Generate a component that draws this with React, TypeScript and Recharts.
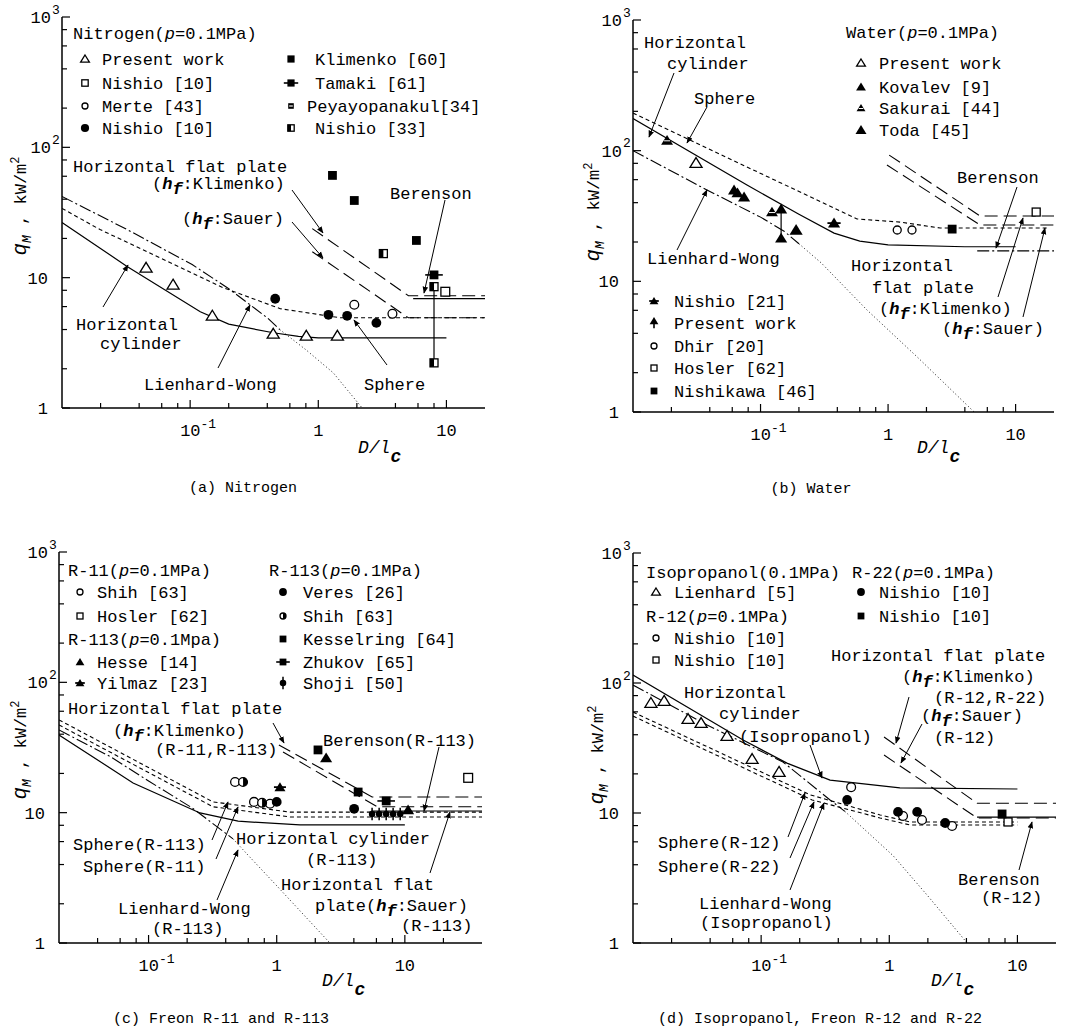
import React from 'react';
import { ScatterChart, Scatter, XAxis, YAxis } from 'recharts';

type P = { x: number; y: number };
const pts = (a: number[][]): P[] => a.map(([x, y]) => ({ x, y }));

// ---------- ticks ----------
const X_TICKS = [0.02, 0.04, 0.06, 0.08, 0.1, 0.2, 0.4, 0.6, 0.8, 1, 2, 4, 6, 8, 10];
const X_TICKS_C = [0.04, 0.06, 0.08, 0.1, 0.2, 0.4, 0.6, 0.8, 1, 2, 4, 6, 8, 10, 20];
const Y_TICKS = [1, 2, 4, 6, 8, 10, 20, 40, 60, 80, 100, 200, 400, 600, 800, 1000];
const X_DOMAIN = [0.01, 20];
const X_DOMAIN_C = [0.02, 40];
const Y_DOMAIN = [1, 1000];

// ---------- (a) Nitrogen ----------
const A_CYL = pts([[0.01, 26.5], [0.0322, 12.2], [0.12, 5.48], [0.2, 4.4], [0.445, 3.78], [0.7, 3.55], [1, 3.45], [10, 3.45]]);
const A_SPH = pts([[0.01, 34], [0.0198, 23.4], [0.181, 8.38], [0.505, 5.78], [1.49, 4.92], [20, 4.92]]);
const A_LW = pts([[0.01, 42], [0.0322, 23.4], [0.1037, 12.6], [0.195, 8.38], [0.4, 4.92], [0.5, 4.0]]);
const A_LW_EXT = pts([[0.5, 4.0], [0.8, 2.8], [1.31, 1.86], [2.2, 1.0]]);
const A_KLIM = pts([[0.898, 23.8], [5.05, 7.27], [20, 7.27]]);
const A_SAUER = pts([[0.898, 15.8], [5.05, 4.92], [20, 4.92]]);
const A_BER = pts([[5.5, 6.9], [20, 6.9]]);
const A_PRESENT = pts([[0.0453, 11.9], [0.0736, 8.83], [0.149, 5.1], [0.445, 3.71], [0.806, 3.58], [1.41, 3.58]]);
const A_NISHIO10_SQ = pts([[9.8, 7.8]]);
const A_MERTE = pts([[1.91, 6.2], [3.79, 5.28]]);
const A_NISHIO10_C = pts([[0.461, 6.89], [1.2, 5.19], [1.68, 5.1], [2.84, 4.5]]);
const A_KLIMENKO = pts([[1.29, 60.9], [1.91, 39.1], [5.83, 19.3]]);
const A_TAMAKI = pts([[8.0, 10.5]]);
const A_PEYAYO = pts([[3.22, 15.3]]);
const A_NISHIO33 = pts([[8.0, 8.53], [8.0, 2.22]]);

// ---------- (b) Water ----------
const B_CYL = pts([[0.01, 176], [0.0783, 54.6], [0.2, 32.6], [0.377, 23.4], [0.6, 20.3], [1, 19.0], [4, 18.4], [10, 18.4]]);
const B_SPH = pts([[0.01, 194], [0.571, 30], [1.24, 28.4], [2.56, 25.6], [18, 25.6]]);
const B_LW = pts([[0.01, 100], [0.038, 50], [0.1, 31], [0.153, 24.2], [0.2, 19.4]]);
const B_LW_EXT = pts([[0.2, 19.4], [0.3, 13.8], [0.684, 6.03], [1.69, 2.64], [4.73, 1.0]]);
const B_KLIM = pts([[1.02, 92.5], [5.27, 31.6], [20, 31.6]]);
const B_SAUER = pts([[0.98, 77.6], [5.27, 27], [20, 27]]);
const B_BER = pts([[5, 17.1], [20, 17.1]]);
const B_PRESENT = pts([[0.0312, 80.4]]);
const B_KOVALEV = pts([[0.062, 50], [0.066, 47.5], [0.0743, 44.2]]);
const B_SAKURAI = pts([[0.0185, 120], [0.123, 33.9]]);
const B_TODA = pts([[0.19, 24.7]]);
const B_NISHIO21 = pts([[0.377, 27.9]]);
const B_PRESENT_RANGE = pts([[0.145, 35.7], [0.145, 21.4]]);
const B_DHIR = pts([[1.18, 24.7], [1.54, 24.7]]);
const B_HOSLER = pts([[14.5, 33.9]]);
const B_NISHIKAWA = pts([[3.18, 25.1]]);

// ---------- (c) Freon R-11 and R-113 ----------
const C_CYL = pts([[0.02, 39.5], [0.0757, 16.9], [0.252, 9.95], [0.5, 8.6], [1.52, 8.05], [10, 8.05]]);
const C_SPH113 = pts([[0.02, 51.5], [0.318, 12.1], [1.27, 10.1], [40, 10.1]]);
const C_SPH11 = pts([[0.02, 47.1], [0.318, 11.1], [1.27, 9.27], [40, 9.27]]);
const C_LW = pts([[0.02, 43.1], [0.05, 27], [0.1, 17.5], [0.218, 10.9], [0.456, 6.3]]);
const C_LW_EXT = pts([[0.456, 6.3], [0.6, 4.7], [1.0, 2.75], [2.6, 1.0]]);
const C_KLIM = pts([[1.04, 33.1], [5.55, 13.2], [40, 13.2]]);
const C_SAUER = pts([[1.12, 29.2], [6.07, 11.1], [40, 11.1]]);
const C_BER = pts([[5.5, 10.3], [40, 10.3]]);
const C_SHIH11 = pts([[0.473, 17.2], [0.665, 12.1], [0.887, 11.7]]);
const C_HOSLER11 = pts([[31.2, 18.5]]);
const C_HESSE = pts([[2.43, 26.3], [10.6, 10.5]]);
const C_YILMAZ = pts([[1.06, 15.7]]);
const C_VERES = pts([[1.0, 12.1], [4.02, 10.7]]);
const C_SHIH113 = pts([[0.546, 17.2], [0.769, 11.9]]);
const C_KESSELRING = pts([[2.1, 30.3], [4.32, 14.4]]);
const C_ZHUKOV = pts([[7.15, 12.3]]);
const C_SHOJI = pts([[5.55, 9.78], [6.3, 9.78], [7.15, 9.78], [8.1, 9.78], [9.2, 9.78]]);

// ---------- (d) Isopropanol, R-12, R-22 ----------
const D_CYL = pts([[0.01, 115], [0.0723, 36.4], [0.159, 24.2], [0.345, 17.9], [1.21, 15.6], [10, 15.3]]);
const D_LW = pts([[0.01, 96.5], [0.0379, 47.5], [0.148, 24.7], [0.345, 12.6], [0.45, 10.3]]);
const D_LW_EXT = pts([[0.45, 10.3], [1.07, 4.7], [2, 2.3], [4.05, 1.0]]);
const D_SPH12 = pts([[0.01, 59.8], [0.241, 13.8], [0.848, 9.66], [1.45, 8.53], [10, 8.53]]);
const D_SPH22 = pts([[0.01, 55.7], [0.25, 12.6], [0.848, 9.16], [1.45, 8.09], [10, 8.09]]);
const D_KLIM = pts([[0.91, 38.4], [4.84, 11.9], [20, 11.9]]);
const D_SAUER = pts([[0.91, 27.9], [4.84, 9.16], [20, 9.16]]);
const D_BER = pts([[4.84, 9.3], [20, 9.3]]);
const D_LIENHARD = pts([[0.0138, 70.2], [0.0175, 72.8], [0.0269, 52.8], [0.034, 49.2], [0.0542, 39.1], [0.085, 26.0], [0.138, 20.7]]);
const D_R12_C = pts([[0.504, 15.8], [1.28, 9.48], [1.8, 8.83], [3.09, 7.94]]);
const D_R12_SQ = pts([[8.45, 8.53]]);
const D_R22_C = pts([[0.469, 12.6], [1.17, 10.2], [1.65, 10.2], [2.73, 8.38]]);
const D_R22_SQ = pts([[7.59, 9.83]]);

// ---------- styles ----------
const FF = '"Liberation Mono", "DejaVu Sans Mono", monospace';
const L_SOLID = { stroke: '#000', strokeWidth: 1.2 };
const L_SHORT = { stroke: '#000', strokeWidth: 1.1, strokeDasharray: '4 3' };
const L_LONG = { stroke: '#000', strokeWidth: 1.1, strokeDasharray: '13 6' };
const L_DASHDOT = { stroke: '#000', strokeWidth: 1.1, strokeDasharray: '12 3 2 3' };
const L_DOT = { stroke: '#000', strokeWidth: 0.9, strokeDasharray: '1 2.5' };
const AX = { stroke: '#000', strokeWidth: 1.5 };

function Mk({ k, cx, cy, s = 1 }: { k: string; cx: number; cy: number; s?: number }) {
  const r = 4 * s;
  const B = '#000';
  const W = '#fff';
  const tri = (h: number) => `M${cx},${cy - h}L${cx + h * 1.1},${cy + h * 0.8}L${cx - h * 1.1},${cy + h * 0.8}Z`;
  switch (k) {
    case 'triO':
      return <path d={tri(5 * s)} fill={W} stroke={B} strokeWidth={1.3} />;
    case 'triF':
      return <path d={tri(5 * s)} fill={B} />;
    case 'triS':
      return (
        <g>
          <path d={tri(4.5 * s)} fill={B} />
          <line x1={cx - 2.5 * s} x2={cx + 2.5 * s} y1={cy + 0.5} y2={cy + 0.5} stroke={W} strokeWidth={1} />
        </g>
      );
    case 'star':
      return (
        <g>
          <path d={tri(5 * s)} fill={B} />
          <line x1={cx - 6 * s} x2={cx + 6 * s} y1={cy} y2={cy} stroke={B} strokeWidth={1.8} />
        </g>
      );
    case 'triBar':
      return (
        <g>
          <path d={tri(5 * s)} fill={B} />
          <line x1={cx} x2={cx} y1={cy} y2={cy + 9 * s} stroke={B} strokeWidth={1.6} />
        </g>
      );
    case 'sqO':
      return <rect x={cx - r} y={cy - r} width={2 * r} height={2 * r} fill={W} stroke={B} strokeWidth={1.3} />;
    case 'sqF':
      return <rect x={cx - r} y={cy - r} width={2 * r} height={2 * r} fill={B} />;
    case 'sqHalf':
      return (
        <g>
          <rect x={cx - r} y={cy - r} width={2 * r} height={2 * r} fill={W} stroke={B} strokeWidth={1.3} />
          <rect x={cx - r} y={cy - r} width={r} height={2 * r} fill={B} />
        </g>
      );
    case 'sqStripe':
      return (
        <g>
          <rect x={cx - r} y={cy - r} width={2 * r} height={2 * r} fill={B} />
          <line x1={cx - r + 1} x2={cx + r - 1} y1={cy} y2={cy} stroke={W} strokeWidth={1.2} />
        </g>
      );
    case 'sqBar':
      return (
        <g>
          <line x1={cx - 8 * s} x2={cx + 8 * s} y1={cy} y2={cy} stroke={B} strokeWidth={1.6} />
          <rect x={cx - r} y={cy - r} width={2 * r} height={2 * r} fill={B} />
        </g>
      );
    case 'circO':
      return <circle cx={cx} cy={cy} r={r} fill={W} stroke={B} strokeWidth={1.3} />;
    case 'circF':
      return <circle cx={cx} cy={cy} r={r + 0.5} fill={B} />;
    case 'circHalf':
      return (
        <g>
          <circle cx={cx} cy={cy} r={r} fill={W} stroke={B} strokeWidth={1.3} />
          <path d={`M${cx},${cy - r}A${r},${r} 0 0 1 ${cx},${cy + r}Z`} fill={B} />
        </g>
      );
    case 'shoji':
      return (
        <g>
          <line x1={cx} x2={cx} y1={cy - 7 * s} y2={cy + 7 * s} stroke={B} strokeWidth={1.5} />
          <circle cx={cx} cy={cy} r={3.6 * s} fill={B} />
        </g>
      );
    default:
      return <g />;
  }
}

const Empty = () => <g />;
const shapeOf = (k: string, s = 1) => (p: any) => <Mk k={k} cx={p.cx} cy={p.cy} s={s} />;

function line(key: string, data: P[], style: any) {
  return (
    <Scatter key={key} xAxisId="b" yAxisId="l" data={data} line={style} lineType="joint" shape={Empty}
      fill="#000" isAnimationActive={false} legendType="none" />
  );
}
function dots(key: string, data: P[], k: string, s = 1, style: any = false) {
  return (
    <Scatter key={key} xAxisId="b" yAxisId="l" data={data} line={style} shape={shapeOf(k, s)}
      fill="#000" isAnimationActive={false} legendType="none" />
  );
}

// ---------- axis ticks ----------
const isMajor = (v: number) => Math.abs(Math.log10(v) - Math.round(Math.log10(v))) < 1e-9;

const BottomTick = (p: any) => {
  const { x, y, payload } = p;
  const v = payload.value;
  const M = isMajor(v);
  return (
    <g>
      <line x1={x} x2={x} y1={y} y2={y - (M ? 8 : 5)} stroke="#000" strokeWidth={1.2} />
      {M && v === 0.1 && (
        <text x={x - 10} y={y + 22} dy="0.35em" fontFamily={FF} fontSize={17} fill="#000">
          10<tspan dy={-8} fontSize={13}>-1</tspan>
        </text>
      )}
      {M && v !== 0.1 && (
        <text x={x} y={y + 22} dy="0.35em" textAnchor="middle" fontFamily={FF} fontSize={17} fill="#000">
          {v}
        </text>
      )}
    </g>
  );
};
const TopTick = (p: any) => {
  const { x, y, payload } = p;
  const M = isMajor(payload.value);
  return <line x1={x} x2={x} y1={y} y2={y + (M ? 8 : 5)} stroke="#000" strokeWidth={1.2} />;
};
const LeftTick = (p: any) => {
  const { x, y, payload } = p;
  const v = payload.value;
  const M = isMajor(v);
  return (
    <g>
      <line x1={x} x2={x + (M ? 8 : 5)} y1={y} y2={y} stroke="#000" strokeWidth={1.2} />
      {M && v < 100 && (
        <text x={x - 14} y={y} dy="0.35em" textAnchor="end" fontFamily={FF} fontSize={17} fill="#000">
          {v}
        </text>
      )}
      {M && v >= 100 && (
        <g>
          <text x={x - 11} y={y} dy="0.35em" textAnchor="end" fontFamily={FF} fontSize={17} fill="#000">
            10
          </text>
          <text x={x - 10} y={y - 8} dy="0.35em" fontFamily={FF} fontSize={13} fill="#000">
            {v === 100 ? '2' : '3'}
          </text>
        </g>
      )}
    </g>
  );
};
const RightTick = (p: any) => {
  const { x, y, payload } = p;
  const M = isMajor(payload.value);
  return <line x1={x} x2={x - (M ? 8 : 5)} y1={y} y2={y} stroke="#000" strokeWidth={1.2} />;
};

function Panel({ pos, size, margin, yw, domain, xticks, series }: any) {
  return (
    <div style={{ position: 'absolute', left: pos[0], top: pos[1] }}>
      <ScatterChart width={size[0]} height={size[1]} margin={margin}>
        <XAxis xAxisId="b" orientation="bottom" dataKey="x" type="number" scale="log" domain={domain} allowDataOverflow
          ticks={xticks} interval={0} tick={BottomTick} tickLine={false} tickSize={0} tickMargin={0} height={40} axisLine={AX} />
        <XAxis xAxisId="t" orientation="top" dataKey="x" type="number" scale="log" domain={domain} allowDataOverflow
          ticks={xticks} interval={0} tick={TopTick} tickLine={false} tickSize={0} tickMargin={0} height={0} axisLine={AX} />
        <YAxis yAxisId="l" orientation="left" dataKey="y" type="number" scale="log" domain={Y_DOMAIN} allowDataOverflow
          ticks={Y_TICKS} interval={0} tick={LeftTick} tickLine={false} tickSize={0} tickMargin={0} width={yw} axisLine={AX} />
        <YAxis yAxisId="r" orientation="right" dataKey="y" type="number" scale="log" domain={Y_DOMAIN} allowDataOverflow
          ticks={Y_TICKS} interval={0} tick={RightTick} tickLine={false} tickSize={0} tickMargin={0} width={0} axisLine={AX} />
        {series}
      </ScatterChart>
    </div>
  );
}

const seriesA = [
  line('a1', A_LW, L_DASHDOT), line('a2', A_LW_EXT, L_DOT), line('a3', A_SPH, L_SHORT), line('a4', A_CYL, L_SOLID),
  line('a5', A_KLIM, L_LONG), line('a6', A_SAUER, L_LONG), line('a7', A_BER, L_SOLID),
  dots('ap1', A_PRESENT, 'triO', 1.1), dots('ap2', A_NISHIO10_SQ, 'sqO', 1.1), dots('ap3', A_MERTE, 'circO', 1.1),
  dots('ap4', A_NISHIO10_C, 'circF', 1.1), dots('ap5', A_KLIMENKO, 'sqF', 1.1), dots('ap6', A_TAMAKI, 'sqBar', 1.1),
  dots('ap7', A_PEYAYO, 'sqHalf', 1.0), dots('ap8', A_NISHIO33, 'sqHalf', 1.0, L_SOLID),
];
const seriesB = [
  line('b1', B_LW, L_DASHDOT), line('b2', B_LW_EXT, L_DOT), line('b3', B_SPH, L_SHORT), line('b4', B_CYL, L_SOLID),
  line('b5', B_KLIM, L_LONG), line('b6', B_SAUER, L_LONG), line('b7', B_BER, L_DASHDOT),
  dots('bp1', B_PRESENT, 'triO', 1.1), dots('bp2', B_KOVALEV, 'triF', 1.1), dots('bp3', B_SAKURAI, 'triS', 1.2),
  dots('bp4', B_TODA, 'triF', 1.2), dots('bp5', B_NISHIO21, 'star', 1.1), dots('bp6', B_PRESENT_RANGE, 'triF', 1.1, L_SOLID),
  dots('bp7', B_DHIR, 'circO', 1.0), dots('bp8', B_HOSLER, 'sqO', 1.0), dots('bp9', B_NISHIKAWA, 'sqF', 1.1),
];
const seriesC = [
  line('c1', C_LW, L_DASHDOT), line('c2', C_LW_EXT, L_DOT), line('c3', C_SPH113, L_SHORT), line('c4', C_SPH11, L_SHORT),
  line('c5', C_CYL, L_SOLID), line('c6', C_KLIM, L_LONG), line('c7', C_SAUER, L_LONG), line('c8', C_BER, L_SOLID),
  dots('cp1', C_SHIH11, 'circO', 1.1), dots('cp2', C_HOSLER11, 'sqO', 1.1), dots('cp3', C_HESSE, 'triF', 1.1),
  dots('cp4', C_YILMAZ, 'star', 1.0), dots('cp5', C_VERES, 'circF', 1.1), dots('cp6', C_SHIH113, 'circHalf', 1.1),
  dots('cp7', C_KESSELRING, 'sqF', 1.1), dots('cp8', C_ZHUKOV, 'sqBar', 1.1), dots('cp9', C_SHOJI, 'shoji', 0.9),
];
const seriesD = [
  line('d1', D_LW, L_DASHDOT), line('d2', D_LW_EXT, L_DOT), line('d3', D_SPH12, L_SHORT), line('d4', D_SPH22, L_SHORT),
  line('d5', D_CYL, L_SOLID), line('d6', D_KLIM, L_LONG), line('d7', D_SAUER, L_LONG), line('d8', D_BER, L_SOLID),
  dots('dp1', D_LIENHARD, 'triO', 1.1), dots('dp2', D_R12_C, 'circO', 1.1), dots('dp3', D_R12_SQ, 'sqO', 1.0),
  dots('dp4', D_R22_C, 'circF', 1.1), dots('dp5', D_R22_SQ, 'sqF', 1.1),
];

// ---------- annotation helpers ----------
function T({ x, y, children, size = 17, anchor = 'start' }: any) {
  return (
    <text x={x} y={y} dy="0.35em" fontFamily={FF} fontSize={size} textAnchor={anchor} fill="#000">
      {children}
    </text>
  );
}
const Pi = () => <tspan fontStyle="italic">p</tspan>;
const Hf = ({ rest }: { rest: string }) => (
  <>
    <tspan fontStyle="italic" fontWeight="bold">h</tspan>
    <tspan fontStyle="italic" fontWeight="bold" dy={5}>f</tspan>
    <tspan dy={-5}>{rest}</tspan>
  </>
);
const DL = ({ x, y }: any) => (
  <text x={x} y={y} dy="0.35em" fontFamily={FF} fontSize={18} fill="#000">
    <tspan fontStyle="italic">D/l</tspan>
    <tspan fontStyle="italic" fontWeight="bold" dy={9}>c</tspan>
  </text>
);
const YTitle = ({ cx, cy }: any) => (
  <text transform={`rotate(-90 ${cx} ${cy})`} x={cx} y={cy} dy="0.35em" textAnchor="middle" fontFamily={FF} fontSize={17} fill="#000">
    <tspan fontStyle="italic" fontSize={21}>q</tspan>
    <tspan fontStyle="italic" fontSize={13} dy={5}>M</tspan>
    <tspan dy={-5}> , kW/m</tspan>
    <tspan dy={-7} fontSize={12}>2</tspan>
  </text>
);
const Ar = ({ a }: { a: number[] }) => (
  <line x1={a[0]} y1={a[1]} x2={a[2]} y2={a[3]} stroke="#000" strokeWidth={1} markerEnd="url(#ah)" />
);

const AnnA = () => (
  <g>
    <T x={73} y={33}>Nitrogen(<Pi />=0.1MPa)</T>
    <Mk k="triO" cx={85} cy={59} s={0.8} /><T x={102} y={59}>Present work</T>
    <Mk k="sqO" cx={85} cy={83} s={0.8} /><T x={102} y={83}>Nishio [10]</T>
    <Mk k="circO" cx={85} cy={106} s={0.75} /><T x={102} y={106}>Merte [43]</T>
    <Mk k="circF" cx={85} cy={128} s={0.9} /><T x={102} y={128}>Nishio [10]</T>
    <Mk k="sqF" cx={291} cy={59} s={0.9} /><T x={315} y={59}>Klimenko [60]</T>
    <Mk k="sqBar" cx={291} cy={83} s={0.9} /><T x={315} y={83}>Tamaki [61]</T>
    <Mk k="sqStripe" cx={291} cy={106} s={0.7} /><T x={307} y={106}>Peyayopanakul[34]</T>
    <Mk k="sqHalf" cx={291} cy={128} s={0.8} /><T x={315} y={128}>Nishio [33]</T>
    <T x={73} y={166}>Horizontal flat plate</T>
    <T x={152} y={183}>(<Hf rest=":Klimenko)" /></T>
    <T x={182} y={218}>(<Hf rest=":Sauer)" /></T>
    <T x={390} y={193}>Berenson</T>
    <T x={76} y={324}>Horizontal</T>
    <T x={100} y={343}>cylinder</T>
    <T x={144} y={384}>Lienhard-Wong</T>
    <T x={364} y={384}>Sphere</T>
    <DL x={358} y={447} />
    <T x={243} y={487} size={15} anchor="middle">(a) Nitrogen</T>
    <YTitle cx={20} cy={206} />
    <Ar a={[103, 307, 128, 265]} />
    <Ar a={[218, 368, 250, 305]} />
    <Ar a={[387, 365, 354, 320]} />
    <Ar a={[292, 190, 323, 233]} />
    <Ar a={[292, 222, 323, 258]} />
    <Ar a={[445, 200, 424, 293]} />
  </g>
);

const AnnB = () => (
  <g>
    <T x={644} y={42}>Horizontal</T>
    <T x={667} y={63}>cylinder</T>
    <T x={694} y={98}>Sphere</T>
    <T x={846} y={32}>Water(<Pi />=0.1MPa)</T>
    <Mk k="triO" cx={861} cy={63} s={0.8} /><T x={879} y={63}>Present work</T>
    <Mk k="triF" cx={861} cy={87} s={0.9} /><T x={879} y={87}>Kovalev [9]</T>
    <Mk k="triS" cx={861} cy={108} s={0.9} /><T x={879} y={108}>Sakurai [44]</T>
    <Mk k="triF" cx={861} cy={130} s={1.0} /><T x={879} y={130}>Toda [45]</T>
    <T x={957} y={177}>Berenson</T>
    <T x={647} y={258}>Lienhard-Wong</T>
    <T x={851} y={265}>Horizontal</T>
    <T x={872} y={287}>flat plate</T>
    <T x={879} y={308}>(<Hf rest=":Klimenko)" /></T>
    <T x={942} y={328}>(<Hf rest=":Sauer)" /></T>
    <Mk k="star" cx={654} cy={301} s={0.8} /><T x={674} y={301}>Nishio [21]</T>
    <Mk k="triBar" cx={654} cy={321} s={0.8} /><T x={674} y={323}>Present work</T>
    <Mk k="circO" cx={654} cy={346} s={0.75} /><T x={674} y={346}>Dhir [20]</T>
    <Mk k="sqO" cx={654} cy={368} s={0.75} /><T x={674} y={368}>Hosler [62]</T>
    <Mk k="sqF" cx={654} cy={391} s={0.85} /><T x={674} y={391}>Nishikawa [46]</T>
    <DL x={917} y={447} />
    <T x={811} y={488} size={15} anchor="middle">(b) Water</T>
    <YTitle cx={593} cy={212} />
    <Ar a={[674, 73, 649, 137]} />
    <Ar a={[707, 107, 687, 143]} />
    <Ar a={[677, 250, 707, 190]} />
    <Ar a={[1017, 187, 996, 248]} />
    <Ar a={[998, 297, 1023, 218]} />
    <Ar a={[1023, 317, 1045, 228]} />
  </g>
);

const AnnC = () => (
  <g>
    <T x={68} y={570}>R-11(<Pi />=0.1MPa)</T>
    <Mk k="circO" cx={80} cy={592} s={0.75} /><T x={97} y={592}>Shih [63]</T>
    <Mk k="sqO" cx={80} cy={616} s={0.75} /><T x={97} y={616}>Hosler [62]</T>
    <T x={68} y={639}>R-113(<Pi />=0.1Mpa)</T>
    <Mk k="triF" cx={80} cy={662} s={0.8} /><T x={97} y={662}>Hesse [14]</T>
    <Mk k="star" cx={80} cy={683} s={0.8} /><T x={97} y={683}>Yilmaz [23]</T>
    <T x={269} y={570}>R-113(<Pi />=0.1MPa)</T>
    <Mk k="circF" cx={283} cy={592} s={0.85} /><T x={303} y={592}>Veres [26]</T>
    <Mk k="circHalf" cx={283} cy={616} s={0.75} /><T x={303} y={616}>Shih [63]</T>
    <Mk k="sqF" cx={283} cy={639} s={0.85} /><T x={303} y={639}>Kesselring [64]</T>
    <Mk k="sqBar" cx={283} cy={662} s={0.85} /><T x={303} y={662}>Zhukov [65]</T>
    <Mk k="shoji" cx={283} cy={683} s={0.9} /><T x={303} y={683}>Shoji [50]</T>
    <T x={68} y={708}>Horizontal flat plate</T>
    <T x={113} y={730}>(<Hf rest=":Klimenko)" /></T>
    <T x={155} y={749}>(R-11,R-113)</T>
    <T x={323} y={740}>Berenson(R-113)</T>
    <T x={73} y={844}>Sphere(R-113)</T>
    <T x={83} y={866}>Sphere(R-11)</T>
    <T x={236} y={838}>Horizontal cylinder</T>
    <T x={306} y={859}>(R-113)</T>
    <T x={281} y={884}>Horizontal flat</T>
    <T x={315} y={905}>plate(<Hf rest=":Sauer)" /></T>
    <T x={401} y={925}>(R-113)</T>
    <T x={118} y={908}>Lienhard-Wong</T>
    <T x={152} y={928}>(R-113)</T>
    <DL x={322} y={980} />
    <T x={221} y={1018} size={15} anchor="middle">(c) Freon R-11 and R-113</T>
    <YTitle cx={20} cy={750} />
    <Ar a={[273, 723, 284, 743]} />
    <Ar a={[439, 747, 424, 811]} />
    <Ar a={[212, 840, 228, 802]} />
    <Ar a={[216, 859, 238, 807]} />
    <Ar a={[217, 900, 238, 850]} />
    <Ar a={[430, 873, 450, 812]} />
  </g>
);

const AnnD = () => (
  <g>
    <T x={646} y={572}>Isopropanol(0.1MPa)</T>
    <Mk k="triO" cx={656} cy={592} s={0.8} /><T x={674} y={592}>Lienhard [5]</T>
    <T x={646} y={616}>R-12(<Pi />=0.1MPa)</T>
    <Mk k="circO" cx={656} cy={638} s={0.75} /><T x={674} y={638}>Nishio [10]</T>
    <Mk k="sqO" cx={656} cy={660} s={0.75} /><T x={674} y={660}>Nishio [10]</T>
    <T x={852} y={572}>R-22(<Pi />=0.1MPa)</T>
    <Mk k="circF" cx={861} cy={592} s={0.85} /><T x={879} y={592}>Nishio [10]</T>
    <Mk k="sqF" cx={861} cy={616} s={0.85} /><T x={879} y={616}>Nishio [10]</T>
    <T x={831} y={655}>Horizontal flat plate</T>
    <T x={902} y={676}>(<Hf rest=":Klimenko)" /></T>
    <T x={934} y={697}>(R-12,R-22)</T>
    <T x={921} y={715}>(<Hf rest=":Sauer)" /></T>
    <T x={934} y={737}>(R-12)</T>
    <T x={684} y={692}>Horizontal</T>
    <T x={719} y={713}>cylinder</T>
    <T x={739} y={736}>(Isopropanol)</T>
    <T x={658} y={842}>Sphere(R-12)</T>
    <T x={658} y={866}>Sphere(R-22)</T>
    <T x={699} y={903}>Lienhard-Wong</T>
    <T x={700} y={922}>(Isopropanol)</T>
    <T x={958} y={879}>Berenson</T>
    <T x={981} y={897}>(R-12)</T>
    <DL x={931} y={980} />
    <T x={820} y={1018} size={15} anchor="middle">(d) Isopropanol, Freon R-12 and R-22</T>
    <YTitle cx={597} cy={755} />
    <Ar a={[810, 745, 822, 778]} />
    <Ar a={[909, 697, 896, 743]} />
    <Ar a={[922, 724, 901, 763]} />
    <Ar a={[788, 837, 805, 793]} />
    <Ar a={[790, 858, 814, 802]} />
    <Ar a={[790, 890, 824, 803]} />
    <Ar a={[1019, 870, 1032, 822]} />
  </g>
);

export default function App() {
  return (
    <div style={{ position: 'absolute', left: 0, top: 0, width: 1068, height: 1031, background: '#fff', overflow: 'hidden' }}>
      <Panel pos={[0, 0]} size={[534, 510]} margin={{ top: 17, right: 49, bottom: 62, left: 0 }} yw={62}
        domain={X_DOMAIN} xticks={X_TICKS} series={seriesA} />
      <Panel pos={[534, 0]} size={[534, 510]} margin={{ top: 20, right: 14, bottom: 58, left: 0 }} yw={99}
        domain={X_DOMAIN} xticks={X_TICKS} series={seriesB} />
      <Panel pos={[0, 510]} size={[534, 521]} margin={{ top: 42, right: 52, bottom: 48, left: 0 }} yw={59}
        domain={X_DOMAIN_C} xticks={X_TICKS_C} series={seriesC} />
      <Panel pos={[534, 510]} size={[534, 521]} margin={{ top: 43, right: 12, bottom: 48, left: 0 }} yw={99}
        domain={X_DOMAIN} xticks={X_TICKS} series={seriesD} />
      <svg width={1068} height={1031} style={{ position: 'absolute', left: 0, top: 0, pointerEvents: 'none' }}>
        <defs>
          <marker id="ah" viewBox="0 0 10 10" refX="9" refY="5" markerWidth="7" markerHeight="7" orient="auto">
            <path d="M0,1 L10,5 L0,9 z" fill="#000" />
          </marker>
        </defs>
        <AnnA />
        <AnnB />
        <AnnC />
        <AnnD />
      </svg>
    </div>
  );
}
